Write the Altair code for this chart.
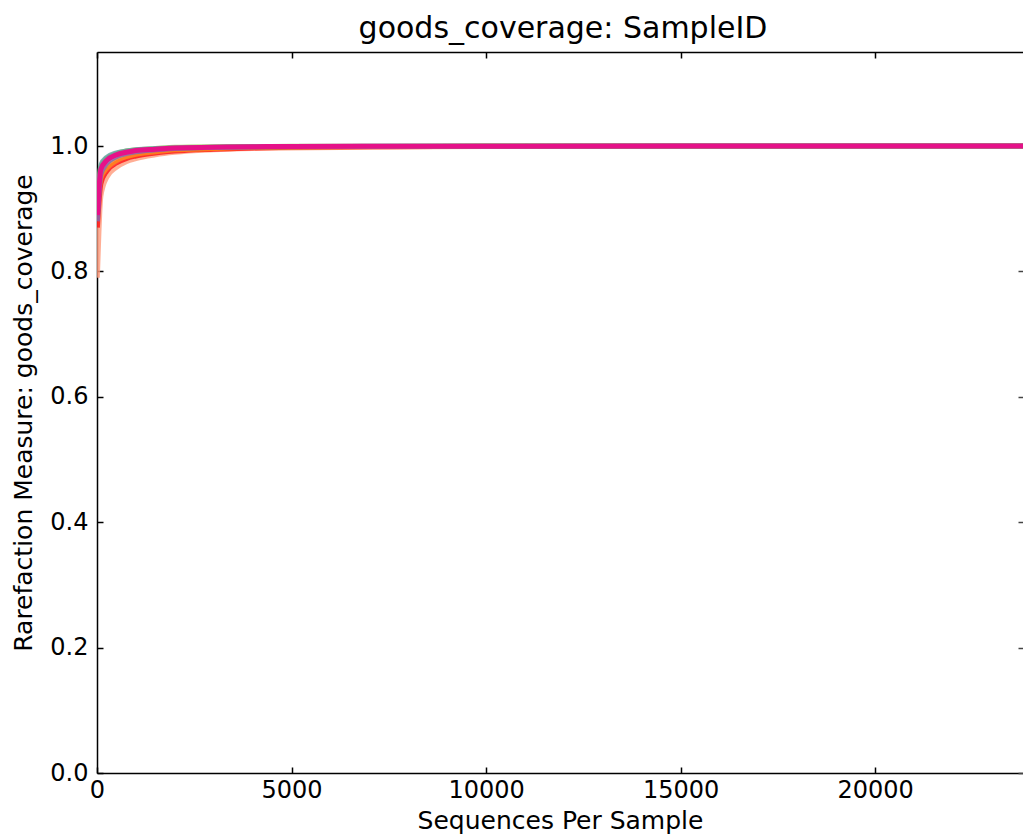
import altair as alt
import pandas as pd

# Rarefaction depths (sequences per sample)
depths = [10, 100, 250, 500, 750, 1000, 1500, 2000, 3000, 4000, 5000, 7500, 10000, 15000, 20000, 23800]

# goods_coverage per sample
s_salmon = [0.790, 0.920, 0.950, 0.966, 0.975, 0.980, 0.986, 0.990, 0.994, 0.996, 0.997, 0.9985, 0.9992, 0.9997, 0.9999, 1.0]
s_red    = [0.870, 0.940, 0.960, 0.973, 0.980, 0.984, 0.989, 0.992, 0.995, 0.997, 0.998, 0.999, 0.9995, 0.9998, 0.9999, 1.0]
s_orange = [0.905, 0.950, 0.965, 0.977, 0.983, 0.987, 0.991, 0.994, 0.996, 0.998, 0.9985, 0.9992, 0.9996, 0.9999, 1.0, 1.0]
s_purple = [0.880, 0.955, 0.972, 0.983, 0.988, 0.991, 0.994, 0.996, 0.998, 0.999, 0.9994, 0.9997, 0.9999, 1.0, 1.0, 1.0]
s_green  = [0.910, 0.968, 0.980, 0.988, 0.992, 0.994, 0.996, 0.998, 0.999, 0.9993, 0.9996, 0.9998, 0.9999, 1.0, 1.0, 1.0]
s_teal   = [0.900, 0.970, 0.982, 0.989, 0.992, 0.994, 0.996, 0.997, 0.998, 0.999, 0.999, 0.9995, 0.9997, 0.9999, 1.0, 1.0]
s_magenta = [0.890, 0.963, 0.977, 0.986, 0.990, 0.993, 0.995, 0.997, 0.998, 0.999, 0.9993, 0.9996, 0.9998, 0.9999, 1.0, 1.0]

sample_ids = ["S1", "S2", "S3", "S4", "S5", "S6", "S7"]
sample_series = [s_salmon, s_red, s_orange, s_purple, s_green, s_teal, s_magenta]
sample_colors = ["#ff9a7a", "#ff1010", "#ff8c1a", "#7b68b8", "#9acd5a", "#5f9ea0", "#ec0a88"]

x_ticks = [0, 5000, 10000, 15000, 20000]
y_ticks = [0.0, 0.2, 0.4, 0.6, 0.8, 1.0]

rows = []
for sid, series in zip(sample_ids, sample_series):
    for d, v in zip(depths, series):
        rows.append({"sample": sid, "depth": d, "value": v})
df = pd.DataFrame(rows)
df_back = df[df["sample"] != "S7"]
df_top = df[df["sample"] == "S7"]

W, H = 926, 721
FONT = "DejaVu Sans"

xs = alt.Scale(domain=[0, 23800], nice=False, zero=True)
ys = alt.Scale(domain=[0, 1.15], nice=False, zero=True)
cs = alt.Scale(domain=sample_ids, range=sample_colors)

base = alt.Chart(df)

lines = alt.Chart(df_back).mark_line(strokeWidth=5, opacity=0.8, interpolate="monotone", clip=True).encode(
    x=alt.X("depth:Q", scale=xs,
            axis=alt.Axis(orient="bottom", values=x_ticks, format="d", tickSize=0,
                          labelFontSize=24, labelFont=FONT, labelColor="black",
                          labelPadding=5, labelFlush=False,
                          domainColor="black", domainWidth=1.5, grid=False,
                          title="Sequences Per Sample", titleFont=FONT, titleFontSize=25,
                          titleFontWeight="normal", titleColor="black",
                          titleY=47, titleBaseline="middle")),
    y=alt.Y("value:Q", scale=ys,
            axis=alt.Axis(orient="left", values=y_ticks, format=".1f", tickSize=0,
                          labelFontSize=24, labelFont=FONT, labelColor="black",
                          labelPadding=9, labelFlush=False,
                          domainColor="black", domainWidth=1.5, grid=False,
                          title="Rarefaction Measure: goods_coverage", titleFont=FONT,
                          titleFontSize=25, titleFontWeight="normal", titleColor="black",
                          titleX=-74, titleY=H / 2, titleBaseline="middle", titleAlign="center",
                          titleAngle=270)),
    color=alt.Color("sample:N", scale=cs, legend=None),
)

top_line = alt.Chart(df_top).mark_line(strokeWidth=5, opacity=0.95, interpolate="monotone", clip=True).encode(
    x=alt.X("depth:Q", scale=xs, axis=None),
    y=alt.Y("value:Q", scale=ys, axis=None),
    color=alt.Color("sample:N", scale=cs, legend=None),
)

# inward ticks at bottom and left edges
ticks_in1 = base.mark_line(opacity=0).encode(
    x=alt.X("depth:Q", scale=xs,
            axis=alt.Axis(orient="top", offset=-H, values=x_ticks, labels=False, domain=False,
                          tickSize=6, tickColor="black", tickWidth=1.5, grid=False, title=None)),
    y=alt.Y("value:Q", scale=ys,
            axis=alt.Axis(orient="right", offset=-W, values=y_ticks, labels=False, domain=False,
                          tickSize=6, tickColor="black", tickWidth=1.5, grid=False, title=None)),
)

# top spine with inward ticks and right-edge inward ticks
ticks_in2 = base.mark_line(opacity=0).encode(
    x=alt.X("depth:Q", scale=xs,
            axis=alt.Axis(orient="bottom", offset=-H, values=x_ticks, labels=False, domain=True,
                          domainColor="black", domainWidth=1.5,
                          tickSize=6, tickColor="black", tickWidth=1.5, grid=False, title=None)),
    y=alt.Y("value:Q", scale=ys,
            axis=alt.Axis(orient="left", offset=-W, values=y_ticks, labels=False, domain=False,
                          tickSize=5, tickColor="#444444", tickWidth=1.5, grid=False, title=None)),
)

chart = alt.layer(lines, top_line, ticks_in1, ticks_in2).resolve_axis(
    x="independent", y="independent"
).properties(
    width=W,
    height=H,
    autosize=alt.AutoSizeParams(type="none"),
    padding={"left": 97, "top": 52, "right": 0, "bottom": 66},
    background="white",
    title=alt.TitleParams("goods_coverage: SampleID", font=FONT, fontSize=30,
                          fontWeight="normal", color="black", anchor="middle",
                          offset=7, dx=3),
).configure_view(stroke=None)

chart.save("out.html", embed_options={"renderer": "svg", "actions": False})
